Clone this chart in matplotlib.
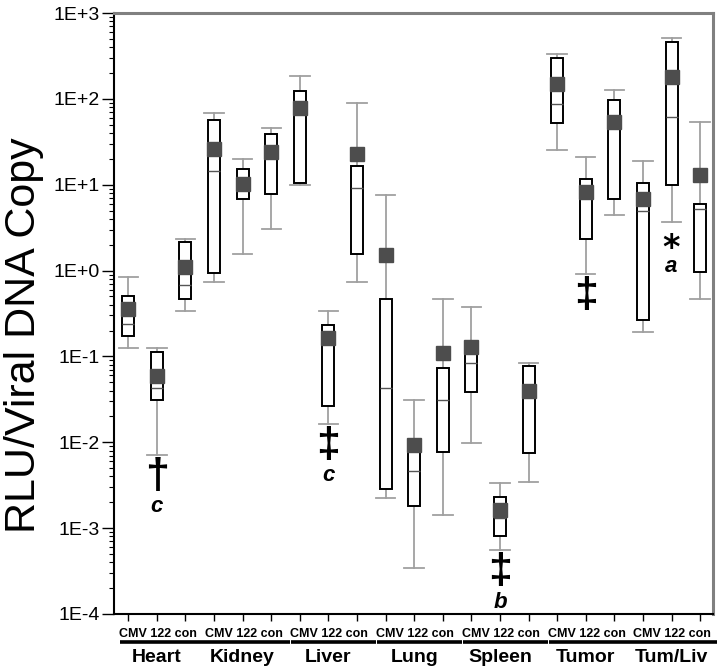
import matplotlib
matplotlib.use("Agg")
import matplotlib.pyplot as plt
import matplotlib.ticker as mticker
import matplotlib.transforms as mtransforms

# ---- data ----
tissues = ["Heart", "Kidney", "Liver", "Lung", "Spleen", "Tumor", "Tum/Liv"]
treatments = ["CMV", "122", "con"]
whisker_high = [0.84, 0.127, 2.32, 68, 20.1, 45.5, 183, 0.342, 90.3, 7.55, 0.0307,
                0.465, 0.375, 0.00338, 0.0849, 331, 20.9, 126, 18.8, 516, 53.8]
q3 = [0.50, 0.112, 2.14, 56.4, 15.4, 39, 124, 0.231, 16.7, 0.465, 0.0107,
      0.0743, 0.144, 0.0023, 0.0783, 302, 11.6, 97.9, 10.5, 463, 5.98]
means = [0.36, 0.0594, 1.11, 26.3, 10.1, 24.3, 79, 0.163, 22.9, 1.51, 0.00927,
         0.111, 0.128, 0.00163, 0.0401, 149, 8.18, 53.5, 6.84, 180, 13.0]
medians = [0.24, 0.0428, 0.687, 14.3, 10.0, 24, 80, 0.17, 9.18, 0.043, 0.00457,
           0.031, 0.0836, 0.00133, 0.04, 87.9, 8.0, 53, 4.96, 61, 5.19]
q1 = [0.171, 0.031, 0.472, 0.93, 6.84, 7.8, 10.5, 0.0264, 1.56, 0.00285, 0.00179,
      0.00769, 0.0387, 0.0008, 0.00741, 52, 2.32, 6.89, 0.267, 9.95, 0.957]
whisker_low = [0.124, 0.00716, 0.342, 0.745, 1.58, 3.09, 9.86, 0.0164, 0.745, 0.00224,
               0.000346, 0.00141, 0.0098, 0.00055, 0.00344, 25.6, 0.908, 4.42, 0.19, 3.69, 0.472]
ytick_values = [1e-4, 1e-3, 1e-2, 1e-1, 1e0, 1e1, 1e2, 1e3]
ytick_labels = ["1E-4", "1E-3", "1E-2", "1E-1", "1E+0", "1E+1", "1E+2", "1E+3"]
# significance marks: (box index, symbol, letter)
marks = [(1, "\u2020", "c"), (7, "\u2021", "c"), (13, "\u2021", "b"), (16, "\u2021", ""), (19, "*", "a")]

plt.rcParams['font.family'] = ['Liberation Sans', 'DejaVu Sans']

fig = plt.figure(figsize=(7.17, 6.71), dpi=100)
ax = fig.add_axes([114/717, 1 - 614/671, (713 - 114)/717, (614 - 13)/671])

n = len(means)
positions = list(range(1, n + 1))
stats = []
for i in range(n):
    stats.append(dict(med=medians[i], q1=q1[i], q3=q3[i], whislo=whisker_low[i],
                      whishi=whisker_high[i], mean=means[i], fliers=[]))

ax.bxp(stats, positions=positions, widths=0.42, capwidths=0.68,
       showmeans=True, meanline=False, showfliers=False, patch_artist=True,
       boxprops=dict(facecolor="white", edgecolor="black", linewidth=1.4, zorder=2),
       medianprops=dict(color="#555555", linewidth=1.0, zorder=2.5),
       whiskerprops=dict(color="#a0a0a0", linewidth=1.3, zorder=1),
       capprops=dict(color="#a0a0a0", linewidth=1.3, zorder=1),
       meanprops=dict(marker="s", markersize=10, markerfacecolor="#4d4d4d",
                      markeredgecolor="#4d4d4d", zorder=3))

ax.set_yscale("log")
ax.set_ylim(1e-4, 1e3)
ax.set_xlim(0.5, n + 0.45)
ax.yaxis.set_major_locator(mticker.FixedLocator(ytick_values))
ax.yaxis.set_major_formatter(mticker.FixedFormatter(ytick_labels))
ax.yaxis.set_minor_locator(mticker.LogLocator(base=10, subs=range(2, 10), numticks=20))
ax.yaxis.set_minor_formatter(mticker.NullFormatter())
ax.tick_params(axis="y", which="major", direction="out", length=9, width=1, labelsize=14, pad=1)
ax.tick_params(axis="y", which="minor", direction="out", length=3.5, width=0.8)
ax.set_xticks(positions)
ax.set_xticklabels([])
ax.tick_params(axis="x", which="major", direction="out", length=5, width=1)
ax.tick_params(axis="x", which="minor", bottom=False)

for side in ["left", "bottom"]:
    ax.spines[side].set_color("black")
    ax.spines[side].set_linewidth(1.5)
for side in ["top", "right"]:
    ax.spines[side].set_color("#808080")
    ax.spines[side].set_linewidth(2.2)

# group labels
trans = mtransforms.blended_transform_factory(ax.transData, fig.transFigure)
sub_label = " ".join(treatments)
for g, name in enumerate(tissues):
    c = 3 * g + 2
    ax.text(c + 0.03, 1 - 634/671, sub_label, transform=trans, ha="center", va="center",
            fontsize=9, fontweight="bold")
    ax.plot([c - 1.30, c + 1.67], [1 - 642/671] * 2, transform=trans, color="black",
            linewidth=2.6, clip_on=False, solid_capstyle="butt")
    ax.text(c, 1 - 658/671, name, transform=trans, ha="center", va="center",
            fontsize=14, fontweight="bold")

# significance marks
for idx, sym, letter in marks:
    x = positions[idx]
    y = whisker_low[idx]
    if sym == "*":
        ax.annotate(sym, xy=(x, y), xytext=(0, -36), textcoords="offset pixels",
                    ha="center", va="baseline", fontsize=24, fontweight="bold",
                    family=["DejaVu Sans"])
        ax.annotate(letter, xy=(x, y), xytext=(0, -45), textcoords="offset pixels",
                    ha="center", va="center", fontsize=16, fontweight="bold", style="italic")
    else:
        ax.annotate(sym, xy=(x, y), xytext=(0, -22), textcoords="offset pixels",
                    ha="center", va="center", fontsize=31, fontweight="bold")
        if letter:
            ax.annotate(letter, xy=(x, y), xytext=(0, -52), textcoords="offset pixels",
                        ha="center", va="center", fontsize=16, fontweight="bold", style="italic")

fig.text(24/717, 1 - 335/671, "RLU/Viral DNA Copy", rotation=90, ha="center", va="center",
         fontsize=31)

fig.savefig("out.png", dpi=100)
